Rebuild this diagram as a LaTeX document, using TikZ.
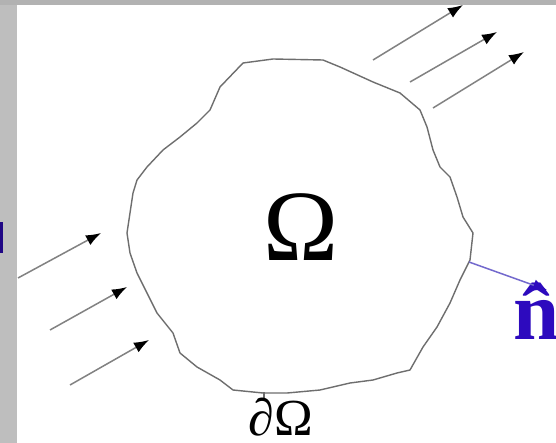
\documentclass[tikz,border=0pt]{standalone}
\usepackage{fontspec}
\newfontfamily\lserif{Liberation Serif}
\usetikzlibrary{arrows.meta}
\definecolor{bordgray}{RGB}{190,190,190}
\definecolor{topgray}{RGB}{178,178,178}
\definecolor{curvegray}{RGB}{110,110,110}
\definecolor{arrgray}{RGB}{130,130,130}
\definecolor{nblue}{RGB}{45,10,190}
\definecolor{nline}{RGB}{115,105,205}
\tikzset{
  flux/.style={draw=arrgray, line width=1.5pt, -{Latex[length=15pt,width=11pt,fill=black,color=black]}},
  normalarrow/.style={draw=nline, line width=1.5pt, -{Latex[length=14pt,width=12pt,fill=nblue,color=nblue]}},
  boundary/.style={draw=curvegray, line width=1.4pt, line join=round}
}
\begin{document}
\begin{tikzpicture}[x=1pt,y=-1pt]
\useasboundingbox (0,0) rectangle (556,443);
\fill[white] (0,0) rectangle (556,443);
\fill[bordgray] (0,0) rectangle (17,443);
\fill[topgray] (0,0) rectangle (556,5);
\fill[nblue!70!black] (0,222) rectangle (3,253);
% region boundary
\draw[boundary] (243,63) -- (273,59) -- (323,60) -- (340,67) -- (373,82) -- (400,93) -- (420,110) -- (427,127) -- (433,150) -- (440,167) -- (450,177) -- (457,197) -- (463,217) -- (473,233) -- (470,260) -- (460,280) -- (450,303) -- (437,327) -- (423,347) -- (410,370) -- (397,373) -- (373,380) -- (350,383) -- (320,390) -- (287,393) -- (263,393) -- (233,390) -- (220,380) -- (197,367) -- (180,353) -- (173,333) -- (157,313) -- (147,293) -- (137,273) -- (130,253) -- (127,233) -- (130,213) -- (133,193) -- (137,180) -- (147,167) -- (163,150) -- (180,137) -- (197,123) -- (210,110) -- (220,87) -- cycle;
\draw[curvegray, line width=1.2pt] (264,392) -- (264,399);
% labels
\node[font=\lserif\fontsize{101}{101}\selectfont, inner sep=0pt, anchor=base] (omega) at (301,261) {Ω};
\node[font=\lserif\fontsize{52}{52}\selectfont, inner sep=0pt, anchor=base] (domega) at (281,435) {∂Ω};
\node[font=\lserif\bfseries\fontsize{83}{83}\selectfont, text=nblue, inner sep=0pt, anchor=base west] (nhat) at (513,339) {n̂};
% inflow arrows (left)
\coordinate (l1s) at (18,278); \coordinate (l1e) at (101,233);
\coordinate (l2s) at (50,330); \coordinate (l2e) at (127,287);
\coordinate (l3s) at (70,385); \coordinate (l3e) at (149,340);
\draw[flux] (l1s) -- (l1e);
\draw[flux] (l2s) -- (l2e);
\draw[flux] (l3s) -- (l3e);
% outflow arrows (top right)
\coordinate (r1s) at (373,60); \coordinate (r1e) at (463,5);
\coordinate (r2s) at (410,82); \coordinate (r2e) at (497,32);
\coordinate (r3s) at (433,108); \coordinate (r3e) at (524,52);
\draw[flux] (r1s) -- (r1e);
\draw[flux] (r2s) -- (r2e);
\draw[flux] (r3s) -- (r3e);
% normal
\coordinate (ns) at (469,262); \coordinate (ne) at (547,290);
\draw[normalarrow] (ns) -- (ne);
\end{tikzpicture}
\end{document}
